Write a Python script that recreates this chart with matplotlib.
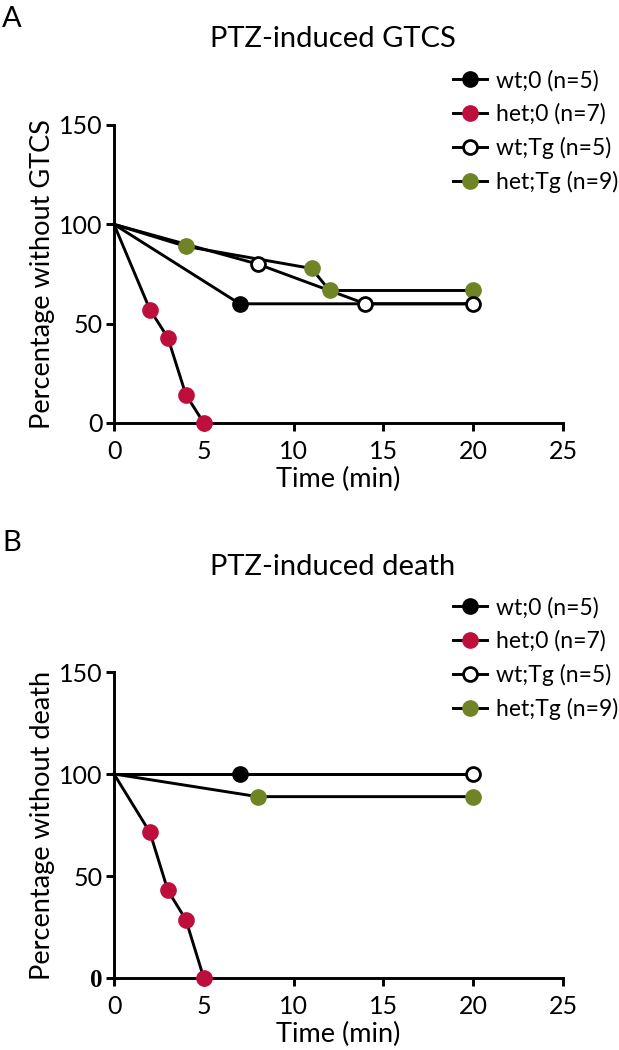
import matplotlib
matplotlib.use("Agg")
import matplotlib.pyplot as plt
from matplotlib.lines import Line2D

plt.rcParams['font.family'] = ['Lato', 'DejaVu Sans']

# ---- data ----
labels = ["wt;0 (n=5)", "het;0 (n=7)", "wt;Tg (n=5)", "het;Tg (n=9)"]

# Panel A: PTZ-induced GTCS
a_wt0_x = [0, 7, 20];            a_wt0_y = [100, 60, 60]
a_het0_x = [0, 2, 3, 4, 5];      a_het0_y = [100, 57.1, 42.9, 14.3, 0]
a_wtTg_x = [0, 8, 14, 20];       a_wtTg_y = [100, 80, 60, 60]
a_hetTg_x = [0, 4, 11, 12, 20];  a_hetTg_y = [100, 88.9, 77.8, 66.7, 66.7]

# Panel B: PTZ-induced death
b_wt0_x = [0, 7, 20];            b_wt0_y = [100, 100, 100]
b_het0_x = [0, 2, 3, 4, 5];      b_het0_y = [100, 71.4, 42.9, 28.6, 0]
b_wtTg_x = [0, 20];              b_wtTg_y = [100, 100]
b_hetTg_x = [0, 8, 20];          b_hetTg_y = [100, 88.9, 88.9]

xticks = [0, 5, 10, 15, 20, 25]
yticks = [0, 50, 100, 150]

RED = "#BE0F3C"
GREEN = "#6E8425"
BLACK = "black"
LW = 2.1
MS = 10

fig = plt.figure(figsize=(6.19, 10.5), dpi=100)

def style_axes(ax, ylabel):
    ax.set_xlim(0, 25)
    ax.set_ylim(0, 150)
    ax.set_xticks(xticks)
    ax.set_yticks(yticks)
    for s in ("top", "right"):
        ax.spines[s].set_visible(False)
    for s in ("left", "bottom"):
        ax.spines[s].set_linewidth(2.1)
    ax.tick_params(direction="out", width=2.1, length=6, labelsize=18, pad=2)
    ax.tick_params(axis="x", pad=6)
    ax.set_xlabel("Time (min)", fontsize=19.5, labelpad=3)
    ax.set_ylabel(ylabel, fontsize=19.5, labelpad=3)

def plot_series(ax, x, y, color, face, markevery):
    ax.plot(x, y, color=BLACK, lw=LW, zorder=2, clip_on=False)
    mx = [x[i] for i in markevery]
    my = [y[i] for i in markevery]
    ax.plot(mx, my, ls="none", marker="o", ms=MS, mfc=face,
            mec=color, mew=2, zorder=3, clip_on=False)

def add_legend(y_top):
    handles = [
        Line2D([], [], color=BLACK, lw=LW, marker="o", ms=11, mfc=BLACK, mec=BLACK),
        Line2D([], [], color=BLACK, lw=LW, marker="o", ms=11, mfc=RED, mec=RED),
        Line2D([], [], color=BLACK, lw=LW, marker="o", ms=10, mfc="white", mec=BLACK, mew=2),
        Line2D([], [], color=BLACK, lw=LW, marker="o", ms=11, mfc=GREEN, mec=GREEN),
    ]
    fig.legend(handles, labels, loc="upper left",
               bbox_to_anchor=(453 / 619, y_top), frameon=False,
               fontsize=16.5, handlelength=1.5, handletextpad=0.38,
               labelspacing=0.52, borderpad=0, borderaxespad=0)

# Panel A
axA = fig.add_axes([114 / 619, 1 - 423 / 1050, 449 / 619, 298 / 1050])
plot_series(axA, a_wt0_x, a_wt0_y, BLACK, BLACK, [1])
plot_series(axA, a_het0_x, a_het0_y, RED, RED, [1, 2, 3, 4])
plot_series(axA, a_hetTg_x, a_hetTg_y, GREEN, GREEN, [1, 2, 3, 4])
plot_series(axA, a_wtTg_x, a_wtTg_y, BLACK, "white", [1, 2, 3])
style_axes(axA, "Percentage without GTCS")
axA.set_title("PTZ-induced GTCS", fontsize=21, pad=56, x=0.488)
fig.text(2 / 619, 1 - 6 / 1050, "A", fontsize=21, va="top", ha="left")
add_legend(1 - 70 / 1050)

# Panel B
axB = fig.add_axes([114 / 619, 1 - 978 / 1050, 449 / 619, 306 / 1050])
plot_series(axB, b_wt0_x, b_wt0_y, BLACK, BLACK, [1])
plot_series(axB, b_het0_x, b_het0_y, RED, RED, [1, 2, 3, 4])
plot_series(axB, b_hetTg_x, b_hetTg_y, GREEN, GREEN, [1, 2])
plot_series(axB, b_wtTg_x, b_wtTg_y, BLACK, "white", [1])
style_axes(axB, "Percentage without death")
axB.set_title("PTZ-induced death", fontsize=21, pad=70, x=0.488)
fig.text(2 / 619, 1 - 530 / 1050, "B", fontsize=21, va="top", ha="left")
add_legend(1 - 597 / 1050)

# the "0" tick of panel B is set in a bold serif face in the original
fig.canvas.draw()
for t in axB.get_yticklabels():
    if t.get_text() == "0":
        t.set_fontfamily("Liberation Serif")
        t.set_fontweight("bold")

fig.savefig("out.png", dpi=100)
